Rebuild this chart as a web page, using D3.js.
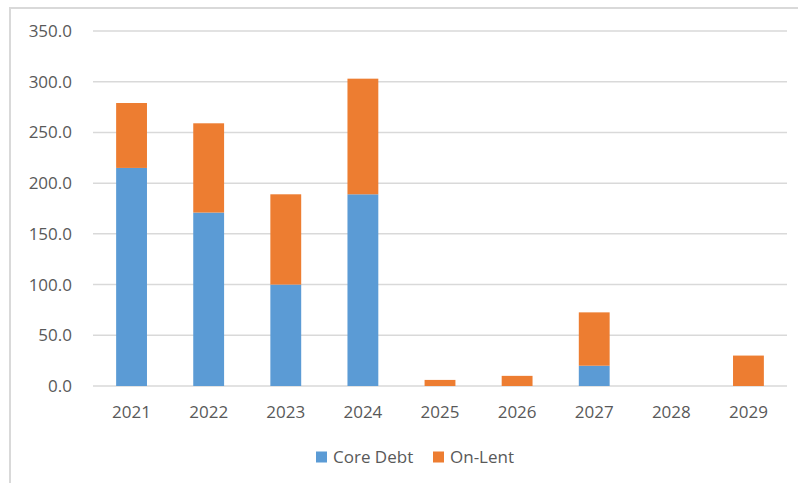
<!DOCTYPE html>
<html>
<head>
<meta charset="utf-8">
<script src="https://cdn.jsdelivr.net/npm/d3@7"></script>
<style>
  body { margin: 0; background: #fff; }
  svg { display: block; font-family: "Open Sans", sans-serif; }
</style>
</head>
<body>
<svg id="chart" width="798" height="483"></svg>
<script>
const years = ['2021', '2022', '2023', '2024', '2025', '2026', '2027', '2028', '2029'];
const coreDebt = [215, 171, 100, 189, 0, 0, 20, 0, 0];
const onLent = [64, 88, 89, 114, 6, 10, 52.6, 0, 30];
const seriesNames = ['Core Debt', 'On-Lent'];
const seriesColors = ['#5B9BD5', '#ED7D31'];
const yTicks = [0, 50, 100, 150, 200, 250, 300, 350];

let svg = d3.select('#chart');

// chart frame (only top and left edges visible in the crop)
svg.append('path')
    .attr('d', 'M10,483 V8 H798')
    .attr('fill', 'none')
    .attr('stroke', '#d9d9d9')
    .attr('stroke-width', 2);

let x = d3.scaleBand().domain(years).range([93, 787]).paddingInner(0.6).paddingOuter(0.3);
let y = d3.scaleLinear().domain([0, 350]).range([386, 31]);

// gridlines
svg.append('g').selectAll('line')
    .data(yTicks)
    .join('line')
    .attr('x1', 93).attr('x2', 787)
    .attr('y1', d => y(d)).attr('y2', d => y(d))
    .attr('stroke', '#d9d9d9')
    .attr('stroke-width', 1.5);

let rows = years.map((yr, i) => ({ year: yr, core: coreDebt[i], lent: onLent[i] }));
let stacked = d3.stack().keys(['core', 'lent'])(rows);

svg.append('g').selectAll('g')
    .data(stacked)
    .join('g')
    .attr('fill', (d, i) => seriesColors[i])
    .selectAll('rect')
    .data(d => d)
    .join('rect')
    .attr('x', d => x(d.data.year))
    .attr('width', x.bandwidth())
    .attr('y', d => y(d[1]))
    .attr('height', d => y(d[0]) - y(d[1]));

// y axis labels
svg.append('g').selectAll('text')
    .data(yTicks)
    .join('text')
    .attr('x', 72)
    .attr('y', d => y(d))
    .attr('dy', '0.35em')
    .attr('text-anchor', 'end')
    .attr('fill', '#595959')
    .attr('font-size', 17)
    .text(d => d3.format('.1f')(d));

// x axis labels
svg.append('g').selectAll('text')
    .data(years)
    .join('text')
    .attr('x', d => x(d) + x.bandwidth() / 2)
    .attr('y', 412)
    .attr('dy', '0.35em')
    .attr('text-anchor', 'middle')
    .attr('fill', '#595959')
    .attr('font-size', 17)
    .text(d => d);

// legend
let legendX = [316, 433];
let legend = svg.append('g').selectAll('g')
    .data(seriesNames)
    .join('g')
    .attr('transform', (d, i) => `translate(${legendX[i]},457)`);
legend.append('rect')
    .attr('x', 0).attr('y', -5.5)
    .attr('width', 11).attr('height', 11)
    .attr('fill', (d, i) => seriesColors[i]);
legend.append('text')
    .attr('x', 17)
    .attr('dy', '0.35em')
    .attr('fill', '#595959')
    .attr('font-size', 17)
    .text(d => d);
</script>
</body>
</html>
